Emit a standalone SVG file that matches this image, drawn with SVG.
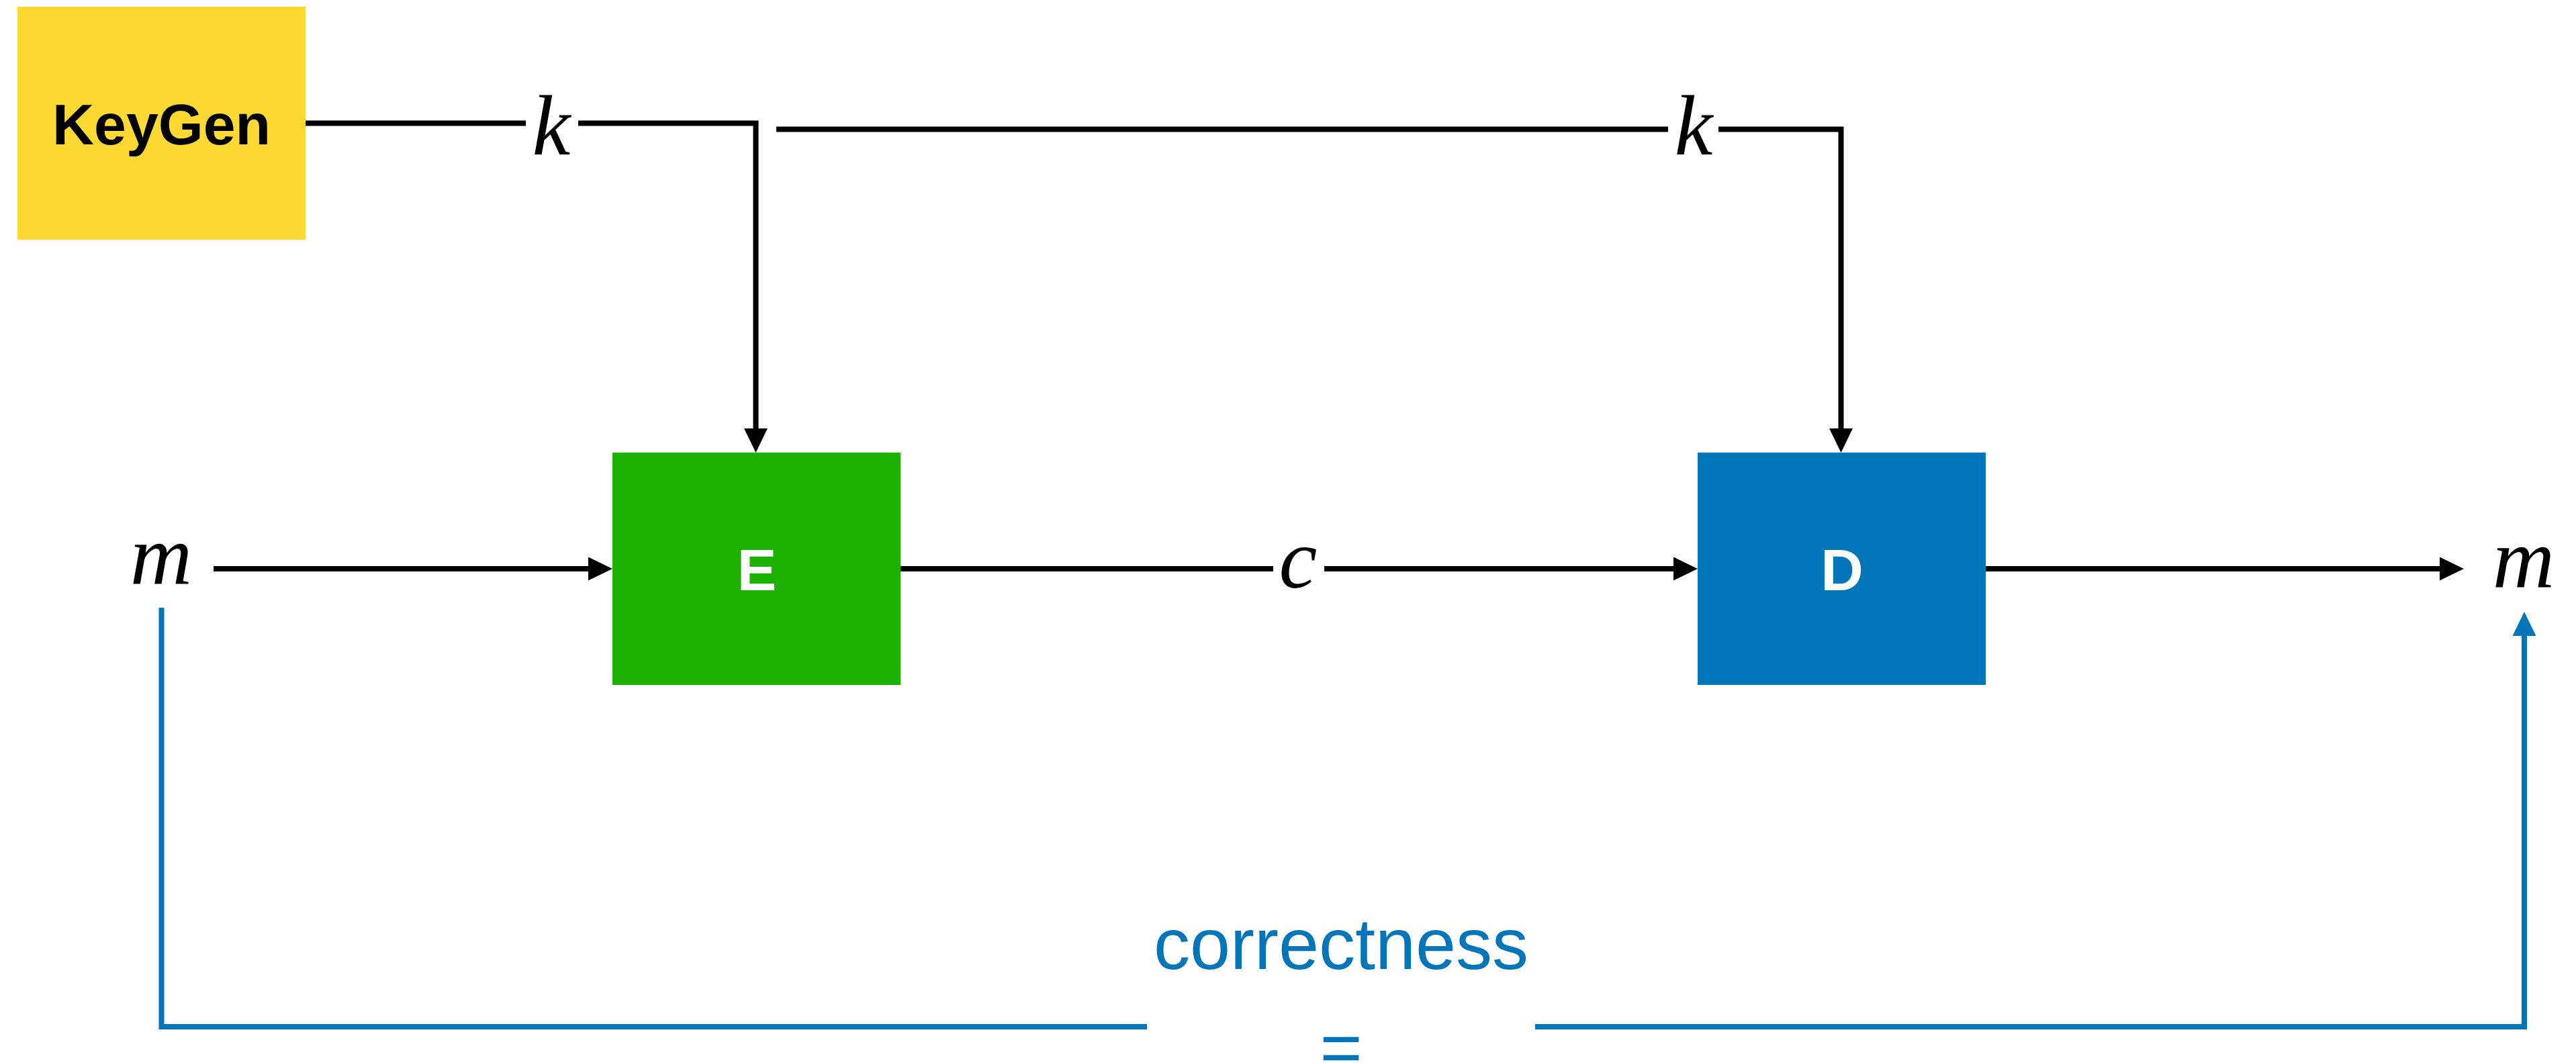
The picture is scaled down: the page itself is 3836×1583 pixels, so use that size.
<svg xmlns="http://www.w3.org/2000/svg" width="3836" height="1583" viewBox="0 0 3836 1583">
  <style>
    .wire { fill: none; stroke: #000000; stroke-width: 8; stroke-linejoin: miter; stroke-linecap: butt; }
    .check { fill: none; stroke: #0076BA; stroke-width: 8; stroke-linejoin: miter; stroke-linecap: butt; }
    .box-label { font-family: "Liberation Sans", Arial, sans-serif; font-weight: bold; text-anchor: middle; }
    .var { font-family: "Liberation Serif", "Times New Roman", serif; font-style: italic; font-size: 128px; fill: #000000; text-anchor: middle; }
    .note { font-family: "Liberation Sans", Arial, sans-serif; font-size: 108px; fill: #0076BA; text-anchor: middle; }
  </style>
  <defs>
    <marker id="head-black" markerUnits="userSpaceOnUse" viewBox="0 0 36 35" markerWidth="36" markerHeight="35" refX="0" refY="17.5" orient="auto">
      <path d="M0,0 L36,17.5 L0,35 Z" fill="#000000"/>
    </marker>
    <marker id="head-blue" markerUnits="userSpaceOnUse" viewBox="0 0 36 35" markerWidth="36" markerHeight="35" refX="0" refY="17.5" orient="auto">
      <path d="M0,0 L36,17.5 L0,35 Z" fill="#0076BA"/>
    </marker>
  </defs>

  <rect width="3836" height="1583" fill="#ffffff"/>

  <!-- connectors -->
  <g id="connectors">
    <!-- key to the encryptor -->
    <path class="wire" d="M455,183.5 H783"/>
    <path class="wire" d="M861,183.5 H1125.5 V638" marker-end="url(#head-black)"/>
    <!-- key to the decryptor -->
    <path class="wire" d="M1156,192.5 H2484"/>
    <path class="wire" d="M2559,192.5 H2741.5 V638" marker-end="url(#head-black)"/>
    <!-- message path -->
    <path class="wire" d="M318,847 H876" marker-end="url(#head-black)"/>
    <path class="wire" d="M1341,847 H1896"/>
    <path class="wire" d="M1972,847 H2492" marker-end="url(#head-black)"/>
    <path class="wire" d="M2957,847 H3633" marker-end="url(#head-black)"/>
    <!-- correctness loop -->
    <path class="check" d="M240.5,905 V1529 H1708"/>
    <path class="check" d="M2286,1529 H3759 V947" marker-end="url(#head-blue)"/>
  </g>

  <g id="keygen">
    <rect x="26" y="10" width="429" height="347" fill="#FED931"/>
    <text class="box-label" x="240.5" y="215" font-size="86" fill="#000000">KeyGen</text>
  </g>

  <g id="encrypt">
    <rect x="912" y="674" width="429" height="346" fill="#1DB100"/>
    <text class="box-label" x="1127" y="879" font-size="88" fill="#ffffff">E</text>
  </g>

  <g id="decrypt">
    <rect x="2528" y="674" width="429" height="346" fill="#0076BA"/>
    <text class="box-label" x="2743" y="879" font-size="88" fill="#ffffff">D</text>
  </g>

  <g id="message-in">
    <text class="var" x="240" y="870">m</text>
  </g>

  <g id="message-out">
    <text class="var" x="3758" y="875">m</text>
  </g>

  <g id="labels">
    <text class="var" x="821" y="230">k</text>
    <text class="var" x="2522" y="230">k</text>
    <text class="var" x="1933" y="875">c</text>
    <text class="note" x="1997" y="1443">correctness</text>
    <text class="note" x="1997" y="1597">=</text>
  </g>
</svg>
